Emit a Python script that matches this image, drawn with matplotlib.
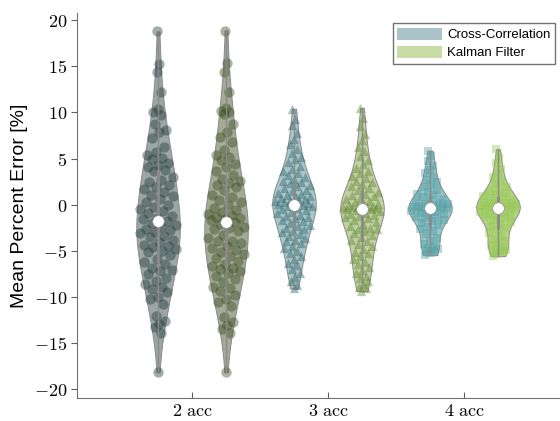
import numpy as np
import matplotlib
matplotlib.use('Agg')
import matplotlib.pyplot as plt
from matplotlib.patches import Patch

plt.rcParams['mathtext.fontset'] = 'cm'

# mean percent error samples
cc_2acc = [18.8, 15.3, 14.4, 12.2, 10.4, 10.0, 9.7, 8.7, 8.1, 7.9, 7.2, 6.3, 5.7, 5.4, 5.1, 4.9,
           4.5, 4.3, 4.1, 3.8, 3.6, 3.0, 2.7, 2.4, 2.1, 1.9, 1.7, 1.4, 1.0, 0.9, 0.6, 0.3, 0.0,
           -0.3, -0.5, -0.7, -0.9, -1.2, -1.5, -1.6, -1.8, -2.0, -2.2, -2.4, -2.6, -2.8, -3.0,
           -3.1, -3.4, -3.5, -3.8, -4.1, -4.4, -4.5, -4.6, -4.8, -5.0, -5.2, -5.5, -5.9, -6.2,
           -6.5, -6.9, -7.1, -7.2, -7.5, -8.0, -8.3, -8.6, -9.0, -9.2, -9.5, -10.0, -10.3,
           -10.8, -12.1, -12.6, -13.0, -13.3, -13.9, -18.2]
kf_2acc = [18.9, 15.4, 14.4, 12.2, 10.5, 10.2, 10.0, 9.8, 8.7, 7.9, 7.3, 6.8, 5.9, 5.4, 5.2, 4.8,
           4.4, 4.1, 3.7, 3.2, 2.8, 2.6, 2.3, 2.1, 1.9, 1.6, 1.0, 0.8, 0.5, 0.3, 0.0, -0.4, -0.6,
           -0.8, -1.0, -1.1, -1.3, -1.5, -1.6, -1.7, -1.9, -2.1, -2.4, -2.5, -2.7, -2.9, -3.3,
           -3.6, -3.9, -4.0, -4.2, -4.5, -4.7, -4.9, -5.1, -5.4, -5.6, -5.8, -6.1, -6.4, -6.7,
           -6.9, -7.0, -7.2, -7.4, -7.7, -8.1, -8.4, -8.9, -9.1, -9.4, -9.8, -10.2, -10.6, -11.0,
           -12.2, -12.7, -13.1, -13.5, -13.9, -18.2]
cc_3acc = [10.4, 9.3, 8.6, 7.8, 7.1, 6.6, 6.0, 5.6, 5.2, 4.9, 4.6, 4.2, 3.9, 3.7, 3.4, 3.2, 3.0,
           2.8, 2.6, 2.5, 2.3, 2.1, 2.0, 1.8, 1.6, 1.5, 1.3, 1.2, 1.0, 0.9, 0.8, 0.7, 0.6, 0.5,
           0.4, 0.35, 0.3, 0.2, 0.15, 0.1, 0.0, -0.1, -0.2, -0.35, -0.5, -0.6, -0.8, -0.9, -1.1,
           -1.2, -1.4, -1.5, -1.7, -1.8, -2.0, -2.2, -2.3, -2.5, -2.7, -2.9, -3.0, -3.2, -3.4,
           -3.6, -3.8, -4.0, -4.2, -4.5, -4.7, -5.0, -5.3, -5.6, -5.9, -6.3, -6.6, -7.0, -7.4,
           -7.9, -8.3, -8.7, -9.1]
kf_3acc = [10.5, 9.4, 8.5, 7.7, 7.0, 6.3, 5.8, 5.3, 4.8, 4.4, 4.0, 3.7, 3.4, 3.1, 2.9, 2.6, 2.4,
           2.2, 2.0, 1.8, 1.6, 1.4, 1.2, 1.0, 0.9, 0.7, 0.6, 0.4, 0.3, 0.1, 0.05, -0.02, -0.11,
           -0.14, -0.22, -0.27, -0.31, -0.38, -0.42, -0.47, -0.5, -0.6, -0.7, -0.9, -1.0, -1.1,
           -1.2, -1.4, -1.5, -1.7, -1.9, -2.1, -2.3, -2.5, -2.6, -2.7, -2.9, -3.1, -3.3, -3.5,
           -3.8, -4.0, -4.3, -4.5, -4.8, -5.1, -5.3, -5.6, -5.9, -6.2, -6.5, -6.8, -7.1, -7.4,
           -7.7, -8.0, -8.3, -8.6, -8.9, -9.1, -9.4]
cc_4acc = [5.85, 5.3, 4.7, 4.2, 3.8, 3.4, 3.0, 2.7, 2.4, 2.1, 1.9, 1.6, 1.4, 1.2, 1.0, 0.8, 0.6,
           0.5, 0.3, 0.2, 0.1, 0.02, -0.04, -0.11, -0.16, -0.21, -0.24, -0.29, -0.33, -0.37,
           -0.4, -0.46, -0.52, -0.61, -0.7, -0.79, -0.9, -1.0, -1.1, -1.3, -1.4, -1.5, -1.7,
           -1.8, -2.0, -2.2, -2.4, -2.6, -2.9, -3.2, -3.6, -4.0, -4.3, -4.5, -4.7, -4.8, -4.9,
           -5.0, -5.1, -5.3, -5.5]
kf_4acc = [6.0, 5.2, 4.5, 3.9, 3.4, 3.0, 2.6, 2.2, 1.9, 1.7, 1.5, 1.3, 1.1, 0.9, 0.8, 0.7, 0.5,
           0.4, 0.3, 0.2, 0.12, 0.04, -0.01, -0.06, -0.12, -0.17, -0.2, -0.26, -0.31, -0.36,
           -0.4, -0.5, -0.6, -0.7, -0.8, -0.9, -1.0, -1.1, -1.2, -1.4, -1.5, -1.7, -1.9, -2.1,
           -2.3, -2.5, -2.8, -3.1, -3.4, -3.7, -4.0, -4.2, -4.4, -4.6, -4.8, -4.9, -5.0, -5.1,
           -5.2, -5.4, -5.6]

groups = ['2 acc', '3 acc', '4 acc']
methods = ['Cross-Correlation', 'Kalman Filter']
data = [cc_2acc, kf_2acc, cc_3acc, kf_3acc, cc_4acc, kf_4acc]
positions = [0.75, 1.25, 1.75, 2.25, 2.75, 3.25]
markers = ['o', 'o', '^', '^', 's', 's']
msizes = [55, 55, 45, 45, 30, 30]

fill_cols = ['#9ca6a4', '#a4aa96', '#aac6c8', '#c1d0a5', '#96c4c8', '#b4d482']
dot_cols = ['#1e3737', '#374b1e', '#2d6469', '#5f872d', '#55a0a5', '#96c855']

fig = plt.figure(figsize=(5.6, 4.21), dpi=100)
ax = fig.add_axes([0.1375, 0.0546, 0.8625, 0.9145])

vp = ax.violinplot(data, positions=positions, widths=0.32, showextrema=False, points=200)
for body, fc in zip(vp['bodies'], fill_cols):
    body.set_facecolor(fc)
    body.set_edgecolor('#8a8a8a')
    body.set_linewidth(0.7)
    body.set_alpha(1)
    body.set_zorder(1)

golden = 0.6180339887
for d, pos, mk, ms, dc in zip(data, positions, markers, msizes, dot_cols):
    d = np.array(d)
    n = len(d)
    bw = d.std(ddof=1) * n ** (-0.2)
    grid = np.linspace(d.min(), d.max(), 200)
    kde = lambda y: np.exp(-0.5 * ((y[:, None] - d[None, :]) / bw) ** 2).sum(axis=1)
    dens = kde(d) / kde(grid).max()
    offs = ((np.arange(n) * golden) % 1) * 2 - 1
    xs = pos + offs * dens * 0.16 * 0.9
    ax.scatter(xs, d, s=ms, marker=mk, color=dc, alpha=0.42, linewidths=0, zorder=2)

    q1, med, q3 = np.percentile(d, [25, 50, 75])
    ax.plot([pos, pos], [d.min(), d.max()], color='#8a8a8a', lw=1, zorder=3)
    ax.plot([pos, pos], [q1, q3], color='#8a8a8a', lw=2.0, zorder=3)
    ax.scatter([pos], [med], s=70, color='white', edgecolors='#909090', linewidths=0.5, zorder=4)

ax.set_xlim(0.154, 3.706)
ax.set_ylim(-21, 20.8)
ax.set_xticks([1, 2, 3])
ax.set_xticklabels([r'$\mathrm{%s}$' % g.replace(' ', r'\ ') for g in groups], fontsize=13)
yt = np.arange(-20, 21, 5)
ax.set_yticks(yt)
ax.set_yticklabels([r'$%d$' % v for v in yt], fontsize=13)
ax.tick_params(axis='y', direction='out', length=4, color='#606060', pad=3)
ax.tick_params(axis='x', direction='in', length=4, color='#606060', pad=3)
for s in ['top', 'right']:
    ax.spines[s].set_visible(False)
for s in ['left', 'bottom']:
    ax.spines[s].set_color('#707070')
ax.set_ylabel('Mean Percent Error [%]', fontsize=14, family='Liberation Sans', labelpad=4)

handles = [Patch(facecolor='#aac3c8', edgecolor='none'), Patch(facecolor='#c8dca5', edgecolor='none')]
leg = ax.legend(handles, methods, loc='upper right', bbox_to_anchor=(0.991, 0.945),
                bbox_transform=fig.transFigure, borderaxespad=0, fancybox=False,
                edgecolor='#505050', handlelength=3.4, handleheight=1.0, labelspacing=0.35,
                handletextpad=0.35, borderpad=0.35, prop={'family': 'Liberation Sans', 'size': 9.5})
leg.get_frame().set_linewidth(1.0)

fig.savefig('out.png', dpi=100)
